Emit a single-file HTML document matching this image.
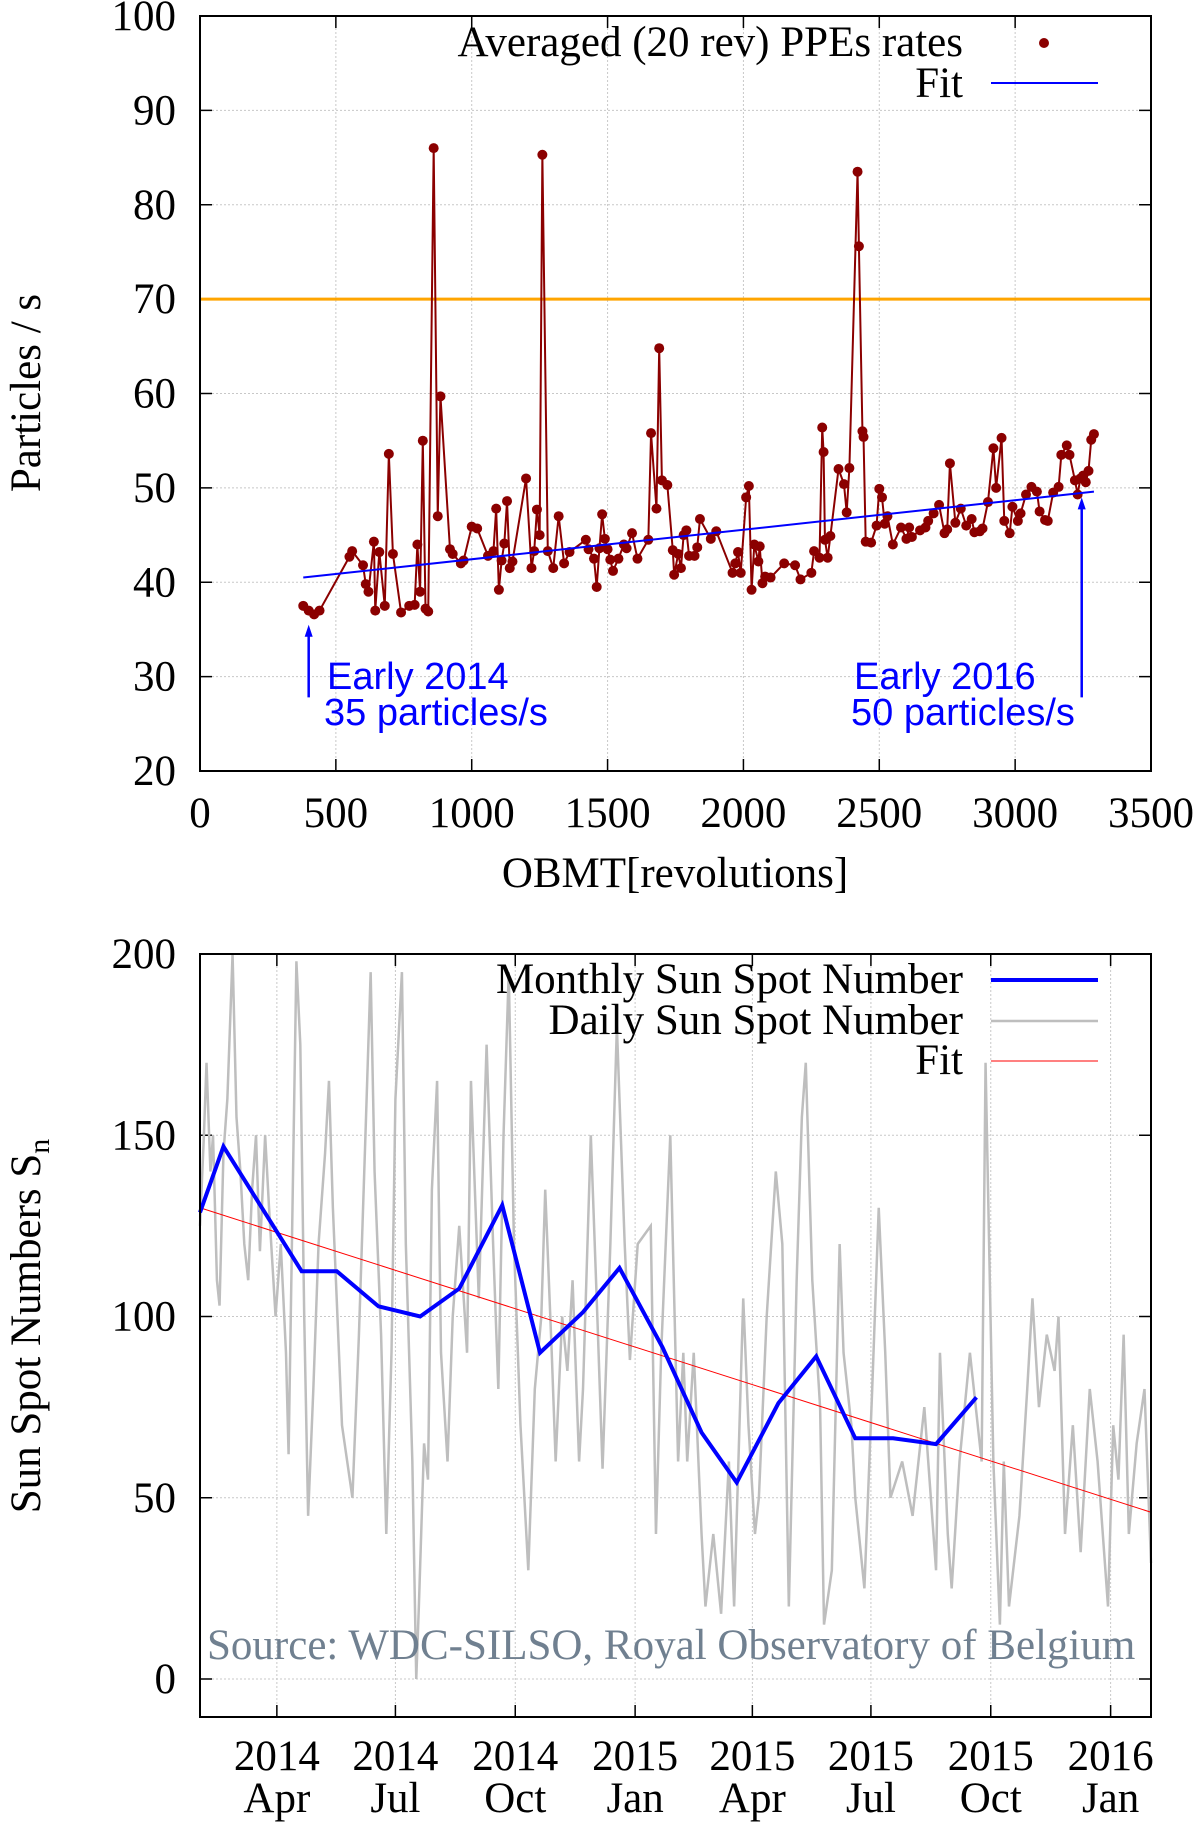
<!DOCTYPE html>
<html><head><meta charset="utf-8"><style>
body{margin:0;background:#fff;}
svg{display:block;font-family:"Liberation Serif",serif;}
</style></head><body>
<svg id="s" width="1200" height="1822" viewBox="0 0 1200 1822" xmlns="http://www.w3.org/2000/svg">
<g id="top"></g>
<g id="bot"></g>
</svg>
<script>
// ---- Top chart data ----
const ppeX = [380,400,420,440,550,560,600,610,620,640,645,660,680,695,710,740,770,790,800,810,820,830,840,860,875,885,920,930,960,970,1000,1020,1060,1080,1090,1100,1110,1120,1130,1140,1150,1200,1220,1230,1240,1250,1260,1280,1300,1320,1340,1360,1420,1430,1450,1460,1470,1480,1490,1500,1510,1520,1540,1560,1570,1590,1610,1650,1660,1680,1690,1700,1720,1740,1745,1760,1770,1780,1790,1800,1820,1830,1840,1880,1900,1960,1970,1980,1990,2010,2020,2030,2040,2055,2060,2070,2080,2100,2150,2190,2210,2250,2260,2280,2290,2295,2300,2310,2320,2350,2370,2380,2390,2420,2425,2438,2442,2450,2470,2490,2500,2510,2520,2530,2550,2580,2600,2610,2620,2650,2670,2680,2700,2720,2740,2750,2760,2780,2800,2820,2840,2850,2870,2880,2900,2920,2930,2950,2960,2980,2990,3010,3020,3040,3060,3080,3090,3110,3120,3140,3160,3170,3190,3200,3220,3230,3240,3250,3260,3270,3280,3290];
const ppeY = [37.5,37,36.6,37,42.7,43.3,41.8,39.8,39,44.3,37,43.2,37.5,53.6,43,36.8,37.5,37.6,44,39,55,37.2,36.9,86,47,59.7,43.5,43,42,42.3,45.9,45.7,42.8,43.3,47.8,39.2,42.3,44.1,48.6,41.5,42.2,51,41.5,43.3,47.7,45,85.3,43.3,41.5,47,42,43.2,44.5,43.5,42.5,39.5,43.6,47.2,44.6,43.5,42.4,41.2,42.5,44,43.6,45.2,42.5,44.5,55.8,47.8,64.8,50.8,50.3,43.4,40.8,43,41.5,45,45.5,42.8,42.8,43.7,46.7,44.6,45.4,41,42,43.2,41,49,50.2,39.2,44,42.2,43.8,39.9,40.6,40.5,42,41.8,40.3,41,43.3,42.6,56.4,53.8,44.5,42.6,44.9,52,50.4,47.4,52.1,83.5,75.6,56,55.4,44.3,44.2,46,49.9,49,46.2,47,44,45.8,44.6,45.8,44.8,45.5,45.8,46.5,47.3,48.2,45.2,45.6,52.6,46.3,47.8,46,46.7,45.3,45.4,45.7,48.5,54.2,50,55.3,46.5,45.2,48,46.5,47.3,49.3,50.1,49.6,47.5,46.6,46.5,49.5,50.1,53.5,54.5,53.5,50.8,49.3,51,51.3,50.6,51.8,55.1,55.7];
const fitX = [380,3290];
const fitY = [40.5,49.6];
const thresholdY = 70;
const topXTicks = [0,500,1000,1500,2000,2500,3000,3500];
const topYTicks = [20,30,40,50,60,70,80,90,100];

// ---- Bottom chart data ----
const monthDays = [0,18,78,105,137,169,199,232,261,294,322,355,385,412,444,473,503,532,565,596];
const monthVals = [128.7,146.9,112.5,112.5,102.8,100,107.7,130.7,90,101.2,113.4,91.5,68,54.2,76.1,89,66.4,66.4,64.8,77.7];
const dailyDays = [0,3,5,8,10,13,15,18,21,25,28,31,34,37,40,43,46,50,53,58,62,66,68,71,74,77,80,83,87,91,96,99,102,109,117,122,127,131,134,139,143,147,150,155,158,163,166,168,172,175,178,182,185,190,194,199,205,208,214,217,220,225,229,233,237,241,246,252,257,262,265,270,273,278,282,286,291,294,300,305,309,315,320,326,330,336,346,350,354,361,367,371,374,379,385,388,394,400,406,410,417,421,426,429,435,442,447,452,458,462,465,470,476,479,485,491,494,500,503,510,516,521,526,530,539,547,556,565,568,574,577,583,591,600,603,609,614,617,621,629,635,639,644,650,656,659,664,670,676,683,689,697,701,705,709,713,719,725,730];
const dailyVals = [125,150,170,140,150,110,103,145,160,200,155,140,120,110,135,150,118,150,130,100,120,90,62,130,198,175,100,45,80,120,145,165,130,70,50,95,150,195,140,95,40,90,160,195,120,60,0,20,65,55,135,165,90,60,100,125,90,165,105,140,175,120,80,150,195,120,70,30,80,100,135,90,60,100,85,110,60,80,150,100,58,120,180,120,88,120,125,40,90,150,60,90,60,90,40,20,40,18,60,20,105,70,40,50,100,140,120,20,110,155,170,110,75,15,30,120,90,70,50,25,80,130,90,50,60,45,75,30,90,40,25,60,90,60,170,60,15,60,20,45,80,105,75,95,85,100,40,70,35,80,60,20,70,55,95,40,65,80,32];
const sfitDays = [0,730];
const sfitVals = [130,46];
const botYTicks = [0,50,100,150,200];
const qDays = [59,150,242,334,424,515,607,699];
const qYears = ["2014","2014","2014","2015","2015","2015","2015","2016"];
const qMonths = ["Apr","Jul","Oct","Jan","Apr","Jul","Oct","Jan"];

const NS = "http://www.w3.org/2000/svg";
function mk(parent, tag, attrs, text){
  const e = document.createElementNS(NS, tag);
  for (const k in attrs) e.setAttribute(k, attrs[k]);
  if (text !== undefined) e.textContent = text;
  parent.appendChild(e);
  return e;
}
const FS = 43;

// ===== TOP =====
const T = document.getElementById('top');
const tL=200,tR=1151,tT=16,tB=771;
const tx = v => tL + v/3500*(tR-tL);
const ty = v => tB - (v-20)/80*(tB-tT);
topYTicks.forEach(v=>{
  let g = mk(T,'line',{x1:tL,x2:tR,y1:ty(v),y2:ty(v),stroke:'#c8c8c8','stroke-width':1,'stroke-dasharray':'2,2'});
  
  
  mk(T,'line',{x1:tL,x2:tL+12,y1:ty(v),y2:ty(v),stroke:'#000','stroke-width':1.5});
  mk(T,'line',{x1:tR-12,x2:tR,y1:ty(v),y2:ty(v),stroke:'#000','stroke-width':1.5});
  let t = mk(T,'text',{x:tL-24,y:ty(v)+14,'text-anchor':'end','font-size':FS},String(v));
  
  
});
topXTicks.forEach(v=>{
  let g = mk(T,'line',{x1:tx(v),x2:tx(v),y1:tT,y2:tB,stroke:'#c8c8c8','stroke-width':1,'stroke-dasharray':'2,2'});
  
  
  mk(T,'line',{x1:tx(v),x2:tx(v),y1:tB-12,y2:tB,stroke:'#000','stroke-width':1.5});
  mk(T,'line',{x1:tx(v),x2:tx(v),y1:tT,y2:tT+12,stroke:'#000','stroke-width':1.5});
  let t = mk(T,'text',{x:tx(v),y:827,'text-anchor':'middle','font-size':FS},String(v));
  
  
});
let th = mk(T,'line',{x1:tL,x2:tR,y1:ty(thresholdY),y2:ty(thresholdY),stroke:'#ffa500','stroke-width':3});


let pl = mk(T,'polyline',{points:ppeX.map((x,i)=>tx(x)+','+ty(ppeY[i])).join(' '),fill:'none',stroke:'#8b0000','stroke-width':2});


ppeX.forEach((x,i)=>{
  let c = mk(T,'circle',{cx:tx(x),cy:ty(ppeY[i]),r:5,fill:'#8b0000'});
  
  
});
let fl = mk(T,'line',{x1:tx(fitX[0]),y1:ty(fitY[0]),x2:tx(fitX[1]),y2:ty(fitY[1]),stroke:'#0000ff','stroke-width':2});


let fr = mk(T,'rect',{x:tL,y:tT,width:tR-tL,height:tB-tT,fill:'none',stroke:'#000','stroke-width':2});


function arrow(x,y1,y2,name){
  let l = mk(T,'line',{x1:x,x2:x,y1:y1,y2:y2+8,stroke:'#0000ff','stroke-width':2.5});
  
  
  mk(T,'polygon',{points:`${x},${y2} ${x-4},${y2+12} ${x+4},${y2+12}`,fill:'#0000ff'});
}
arrow(tx(400),ty(27.8),ty(35.5),'early-2014-arrow');
arrow(tx(3245),ty(27.8),ty(49),'early-2016-arrow');
const sans = '"Liberation Sans", sans-serif';
[['Early 2014',327,689],['35 particles/s',324,725],['Early 2016',854,689],['50 particles/s',851,725]].forEach(a=>{
  let t = mk(T,'text',{x:a[1],y:a[2],'font-size':38,fill:'#0000ff','font-family':sans},a[0]);
  
  
});
let lg1 = mk(T,'text',{x:963,y:56,'text-anchor':'end','font-size':FS},'Averaged (20 rev) PPEs rates');


let lgd = mk(T,'circle',{cx:1044,cy:43,r:5,fill:'#8b0000'});


let lg2 = mk(T,'text',{x:963,y:97,'text-anchor':'end','font-size':FS},'Fit');


let lgl = mk(T,'line',{x1:991,x2:1098,y1:83,y2:83,stroke:'#0000ff','stroke-width':2});


let xt = mk(T,'text',{x:675,y:887,'text-anchor':'middle','font-size':FS},'OBMT[revolutions]');


let yt = mk(T,'text',{x:0,y:0,'text-anchor':'middle','font-size':FS,transform:'translate(40,393) rotate(-90)'},'Particles / s');



// ===== BOTTOM =====
const B = document.getElementById('bot');
const bL=200,bR=1151,bT=954,bB=1717;
const bx = d => bL + d/730*(bR-bL);
const by = v => 1679 - v*(1679-954)/200;
botYTicks.forEach(v=>{
  let g = mk(B,'line',{x1:bL,x2:bR,y1:by(v),y2:by(v),stroke:'#c8c8c8','stroke-width':1,'stroke-dasharray':'2,2'});
  
  
  mk(B,'line',{x1:bL,x2:bL+12,y1:by(v),y2:by(v),stroke:'#000','stroke-width':1.5});
  mk(B,'line',{x1:bR-12,x2:bR,y1:by(v),y2:by(v),stroke:'#000','stroke-width':1.5});
  let t = mk(B,'text',{x:bL-24,y:by(v)+14,'text-anchor':'end','font-size':FS},String(v));
  
  
});
qDays.forEach((d,i)=>{
  let g = mk(B,'line',{x1:bx(d),x2:bx(d),y1:bT,y2:bB,stroke:'#c8c8c8','stroke-width':1,'stroke-dasharray':'2,2'});
  
  
  mk(B,'line',{x1:bx(d),x2:bx(d),y1:bB-12,y2:bB,stroke:'#000','stroke-width':1.5});
  mk(B,'line',{x1:bx(d),x2:bx(d),y1:bT,y2:bT+12,stroke:'#000','stroke-width':1.5});
  let t1 = mk(B,'text',{x:bx(d),y:1770,'text-anchor':'middle','font-size':FS},qYears[i]);
  
  
  let t2 = mk(B,'text',{x:bx(d),y:1812,'text-anchor':'middle','font-size':FS},qMonths[i]);
  
  
});
let dl = mk(B,'polyline',{points:dailyDays.map((d,i)=>bx(d)+','+Math.max(bT,by(dailyVals[i]))).join(' '),fill:'none',stroke:'#bebebe','stroke-width':2.5});


let src = mk(B,'text',{x:207,y:1659,'font-size':FS,fill:'#708090'},'Source: WDC-SILSO, Royal Observatory of Belgium');


let sf = mk(B,'line',{x1:bx(sfitDays[0]),y1:by(sfitVals[0]),x2:bx(sfitDays[1]),y2:by(sfitVals[1]),stroke:'#ff0000','stroke-width':1});


let ml = mk(B,'polyline',{points:monthDays.map((d,i)=>bx(d)+','+by(monthVals[i])).join(' '),fill:'none',stroke:'#0000ff','stroke-width':4});


let bf = mk(B,'rect',{x:bL,y:bT,width:bR-bL,height:bB-bT,fill:'none',stroke:'#000','stroke-width':2});


[['Monthly Sun Spot Number',993,'#0000ff',4,'legend-monthly'],['Daily Sun Spot Number',1034,'#bebebe',2.5,'legend-daily'],['Fit',1074,'#ff0000',1,'legend-fit']].forEach(a=>{
  let t = mk(B,'text',{x:963,y:a[1],'text-anchor':'end','font-size':FS},a[0]);
  
  
  let l = mk(B,'line',{x1:991,x2:1098,y1:a[1]-13,y2:a[1]-13,stroke:a[2],'stroke-width':a[3]});
  
  
});
let byt = mk(B,'text',{x:0,y:0,'text-anchor':'middle','font-size':FS,transform:'translate(40,1326) rotate(-90)'});


mk(byt,'tspan',{},'Sun Spot Numbers S');
mk(byt,'tspan',{'font-size':30,dy:9},'n');
</script>
</body></html>
